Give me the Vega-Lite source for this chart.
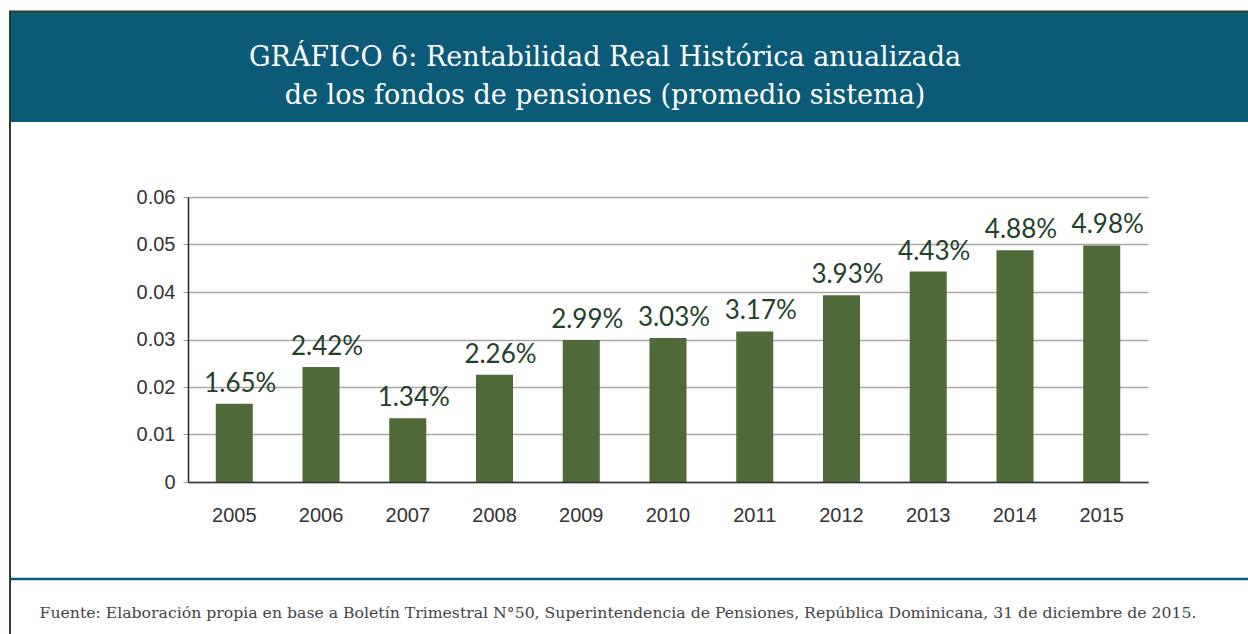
{
  "$schema": "https://vega.github.io/schema/vega-lite/v6.json",
  "width": 960,
  "height": 285,
  "autosize": "none",
  "padding": {"left": 188, "top": 197, "right": 100, "bottom": 152},
  "background": "white",
  "config": {"view": {"stroke": null}},
  "title": {
    "text": ["GRÁFICO 6: Rentabilidad Real Histórica anualizada", "de los fondos de pensiones (promedio sistema)"],
    "font": "DejaVu Serif",
    "fontSize": 27,
    "fontWeight": "normal",
    "color": "white",
    "lineHeight": 38,
    "anchor": "middle",
    "frame": "group",
    "offset": 0,
    "dx": -63,
    "dy": 99
  },
  "data": {
    "values": [
      {"year": "2005", "value": 0.0165},
      {"year": "2006", "value": 0.0242},
      {"year": "2007", "value": 0.0134},
      {"year": "2008", "value": 0.0226},
      {"year": "2009", "value": 0.0299},
      {"year": "2010", "value": 0.0303},
      {"year": "2011", "value": 0.0317},
      {"year": "2012", "value": 0.0393},
      {"year": "2013", "value": 0.0443},
      {"year": "2014", "value": 0.0488},
      {"year": "2015", "value": 0.0498}
    ]
  },
  "layer": [
    {
      "data": {"values": [{}]},
      "mark": {"type": "rect", "fill": "#0a5a78", "x": -177, "x2": 1070, "y": -185, "y2": -75}
    },
    {
      "data": {"values": [{}]},
      "mark": {"type": "rect", "fill": null, "stroke": "#2e3b2c", "strokeWidth": 2, "x": -178, "x2": 1100, "y": -185.5, "y2": 500}
    },
    {
      "data": {"values": [{}]},
      "mark": {"type": "rect", "fill": "#0a5a78", "x": -177, "x2": 1070, "y": 380.8, "y2": 383.2}
    },
    {
      "mark": {"type": "bar", "color": "#4e6a38"},
      "encoding": {
        "x": {
          "field": "year",
          "type": "ordinal",
          "scale": {"paddingInner": 0.573, "paddingOuter": 0.32},
          "axis": {
            "labelAngle": 0,
            "ticks": false,
            "domainColor": "#333333",
            "domainWidth": 1.5,
            "labelPadding": 23,
            "labelFont": "Liberation Sans",
            "labelFontSize": 20,
            "labelColor": "#333333",
            "zindex": 1,
            "title": "Fuente: Elaboración propia en base a Boletín Trimestral N°50, Superintendencia de Pensiones, República Dominicana, 31 de diciembre de 2015.",
            "titleFont": "DejaVu Serif",
            "titleFontSize": 15.7,
            "titleFontWeight": "normal",
            "titleColor": "#444444",
            "titleX": -149,
            "titleY": 135,
            "titleAlign": "left",
            "titleAnchor": null,
            "titleBaseline": "alphabetic"
          }
        },
        "y": {
          "field": "value",
          "type": "quantitative",
          "scale": {"domain": [0, 0.06], "nice": false},
          "axis": {
            "values": [0, 0.01, 0.02, 0.03, 0.04, 0.05, 0.06],
            "format": "~g",
            "title": null,
            "domainColor": "#222222",
            "domainWidth": 1.5,
            "tickColor": "#999999",
            "tickSize": 5,
            "grid": true,
            "gridColor": "#a8a8a8",
            "gridWidth": 1.5,
            "labelPadding": 8,
            "labelFont": "Liberation Sans",
            "labelFontSize": 20,
            "labelColor": "#333333"
          }
        }
      }
    },
    {
      "mark": {"type": "text", "font": "Lato", "fontSize": 26, "color": "#24402a", "baseline": "alphabetic", "dx": 6, "dy": -12},
      "encoding": {
        "x": {"field": "year", "type": "ordinal"},
        "y": {"field": "value", "type": "quantitative"},
        "text": {"field": "value", "type": "quantitative", "format": ".2%"}
      }
    }
  ]
}
